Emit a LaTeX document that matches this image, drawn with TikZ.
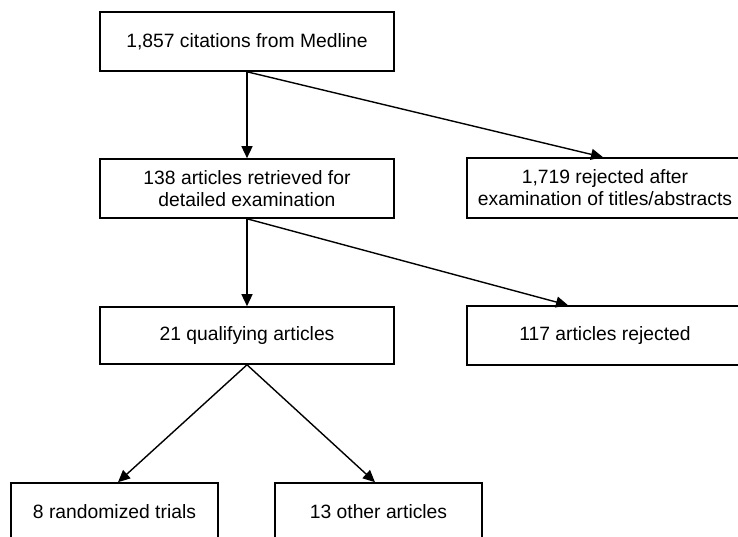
\documentclass[tikz,border=0pt]{standalone}
\usepackage{fontspec}
\setmainfont{Liberation Sans}
\usetikzlibrary{arrows.meta}
\begin{document}
\begin{tikzpicture}[x=1pt,y=1pt,
  box/.style={draw=black, line width=1.6pt, fill=white, align=center, inner sep=0pt,
    font=\fontsize{19.3}{22}\selectfont},
  arr/.style={line width=1.4pt, -{Triangle[length=12pt,width=11pt]}}]
\useasboundingbox (0,0) rectangle (738,537);
\clip (0,0) rectangle (738,537);
\fill[white] (0,0) rectangle (738,537);
\node[box, minimum width=294pt, minimum height=59pt] (b1) at (247,495.5) {1,857 citations from Medline};
\node[box, minimum width=294pt, minimum height=59pt] (b2) at (247,348.5) {138 articles retrieved for\\detailed examination};
\node[box, minimum width=276pt, minimum height=60pt] (b3) at (605,349) {1,719 rejected after\\examination of titles/abstracts};
\node[box, minimum width=294pt, minimum height=57pt] (b4) at (247,201.5) {21 qualifying articles};
\node[box, minimum width=276pt, minimum height=59pt] (b5) at (605,201.5) {117 articles rejected};
\node[box, minimum width=207pt, minimum height=58pt] (b6) at (114.5,25) {8 randomized trials};
\node[box, minimum width=207pt, minimum height=58pt] (b7) at (378.5,25) {13 other articles};
\draw[arr] (b1.south) -- (b2.north);
\draw[arr] (b1.south) -- ([xshift=-2pt]b3.north);
\draw[arr] (b2.south) -- (b4.north);
\draw[arr] (b2.south) -- ([xshift=-37pt]b5.north);
\draw[arr] (b4.south) -- ([xshift=3.5pt]b6.north);
\draw[arr] (b4.south) -- ([xshift=-3.5pt]b7.north);
\end{tikzpicture}
\end{document}
